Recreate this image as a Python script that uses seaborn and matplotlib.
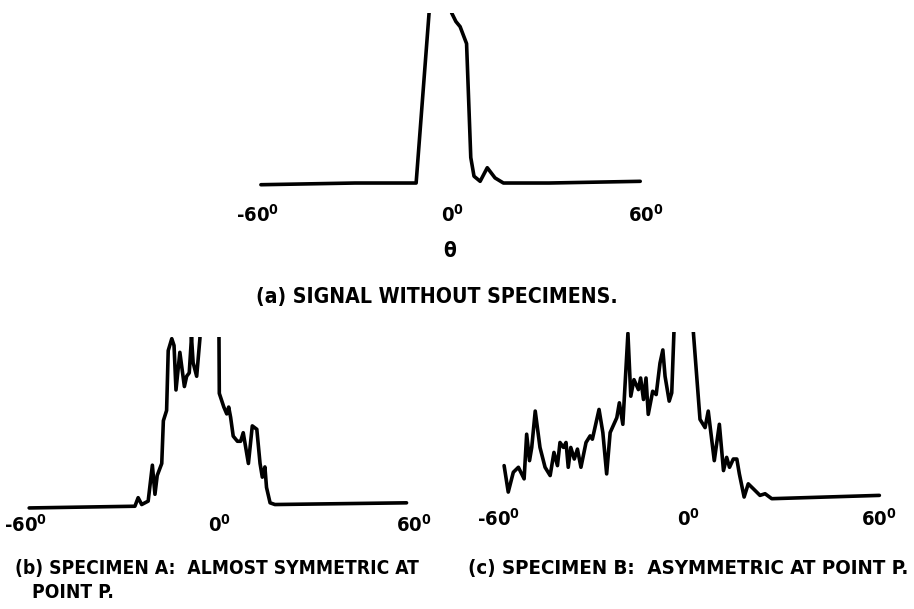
import matplotlib
matplotlib.use("Agg")
import matplotlib.pyplot as plt
import seaborn as sns

# Angles in degrees, signal normalised so the clip level at the top is 1.0
theta_a = [-59.1, -30.0, -11.1, -8.9, -7.1, -5.5, -1.5, -0.1, 1.2, 2.5, 4.5, 5.8, 6.8, 8.7, 10.9,
           13.3, 15.9, 30.0, 58.2]
signal_a = [-0.01, 0.0, 0.0, 0.55, 1.0, 1.6, 1.6, 1.0, 0.95, 0.92, 0.82, 0.15, 0.04, 0.01, 0.09,
            0.03, 0.0, 0.0, 0.01]

theta_b = [-59.0, -26.3, -25.3, -24.2, -22.2, -20.9, -20.1, -19.4, -18.0, -17.5, -16.5, -16.0,
           -14.9, -14.2, -13.6, -12.4, -11.0, -10.3, -9.5, -8.8, -8.3, -7.2, -6.2, -5.5, -1.0,
           -0.3, -0.2, 1.2, 2.1, 2.7, 3.3, 4.1, 5.4, 6.4, 7.2, 8.8, 10.0, 11.4, 12.4, 13.1, 13.9,
           14.4, 15.5, 17.0, 57.7]
signal_b = [0.0, 0.01, 0.06, 0.02, 0.04, 0.25, 0.08, 0.19, 0.26, 0.51, 0.57, 0.92,
            0.99, 0.95, 0.69, 0.91, 0.71, 0.77, 0.79, 1.0, 0.85, 0.77, 0.99, 1.5, 1.5,
            1.0, 0.67, 0.59, 0.55, 0.59, 0.53, 0.42, 0.39, 0.39, 0.44, 0.26, 0.48, 0.46, 0.26, 0.18, 0.24,
            0.12, 0.03, 0.02, 0.03]

theta_c = [-58.1, -56.8, -55.2, -53.6, -51.8, -51.0, -50.1, -49.4, -48.3, -46.8, -45.2, -43.6,
           -42.4, -41.3, -40.5, -39.4, -38.6, -37.9, -37.1, -36.0, -35.0, -33.9, -32.3, -31.0,
           -30.3, -28.2, -27.0, -25.8, -24.7, -22.6, -21.8, -20.7, -19.1, -18.2, -17.2, -15.8,
           -15.1, -14.2, -13.4, -12.7, -11.3, -10.2, -9.0, -8.1, -7.4, -6.1, -5.3, -4.6, -4.0,
           1.0, 1.5, 3.6, 5.2, 6.2, 8.1, 9.7, 11.0, 12.0, 12.9, 14.1, 15.2, 16.0, 17.5, 18.8,
           20.4, 22.5, 24.1, 26.2, 60.1]
signal_c = [0.19, 0.03, 0.15, 0.18, 0.11, 0.38, 0.22, 0.30, 0.52, 0.30, 0.18, 0.13,
            0.27, 0.19, 0.33, 0.30, 0.33, 0.18, 0.30, 0.23, 0.29, 0.18, 0.33, 0.37,
            0.35, 0.53, 0.39, 0.14, 0.39, 0.48, 0.57, 0.44, 0.99, 0.61, 0.71, 0.65,
            0.72, 0.59, 0.72, 0.50, 0.64, 0.62, 0.81, 0.89, 0.73, 0.58, 0.63, 1.0, 1.5,
            1.5, 1.0, 0.47, 0.42, 0.52, 0.22, 0.44, 0.16, 0.24, 0.18, 0.23, 0.23, 0.14, 0.0, 0.08,
            0.05, 0.01, 0.02, -0.01, 0.01]

tick_values = [-60, 0, 60]
tick_labels = ["-60$^0$", "0$^0$", "60$^0$"]

sns.set_style("white")
plt.rcParams["font.family"] = ["DejaVu Sans"]
plt.rcParams["font.stretch"] = "condensed"
plt.rcParams["font.weight"] = "bold"
plt.rcParams["mathtext.default"] = "regular"
plt.rcParams["text.color"] = "black"
plt.rcParams["xtick.color"] = "black"

fig = plt.figure(figsize=(9.14, 6.09), dpi=100)

panels = [
    (theta_a, signal_a, [0.2752, 0.6911, 0.4387, 0.2875], 11.5),
    (theta_b, signal_b, [0.0213, 0.1575, 0.4387, 0.2892], 0.5),
    (theta_c, signal_c, [0.5380, 0.1757, 0.4307, 0.2796], 4.0),
]

for theta, signal, pos, pad in panels:
    ax = fig.add_axes(pos)
    sns.lineplot(x=theta, y=signal, ax=ax, color="black", linewidth=2.6,
                 sort=False, estimator=None)
    ax.set_xlim(-62, 62)
    ax.set_ylim(-0.03, 1.0)
    ax.set_xticks(tick_values)
    ax.set_xticklabels(tick_labels, fontsize=14.5, fontweight="bold")
    ax.set_yticks([])
    ax.tick_params(axis="x", length=0, pad=pad)
    ax.set_xlabel("")
    ax.set_ylabel("")
    sns.despine(ax=ax, left=True, bottom=True)

fig.text(0.492, 0.588, "θ", ha="center", va="center", fontsize=15)
fig.text(0.478, 0.512, "(a) SIGNAL WITHOUT SPECIMENS.", ha="center", va="center", fontsize=15.2)
fig.text(0.0164, 0.0657, "(b) SPECIMEN A:  ALMOST SYMMETRIC AT", ha="left", va="center", fontsize=13.8)
fig.text(0.035, 0.0279, "POINT P.", ha="left", va="center", fontsize=13.8)
fig.text(0.512, 0.0673, "(c) SPECIMEN B:  ASYMMETRIC AT POINT P.", ha="left", va="center", fontsize=14.7)

fig.savefig("out.png", dpi=100)
